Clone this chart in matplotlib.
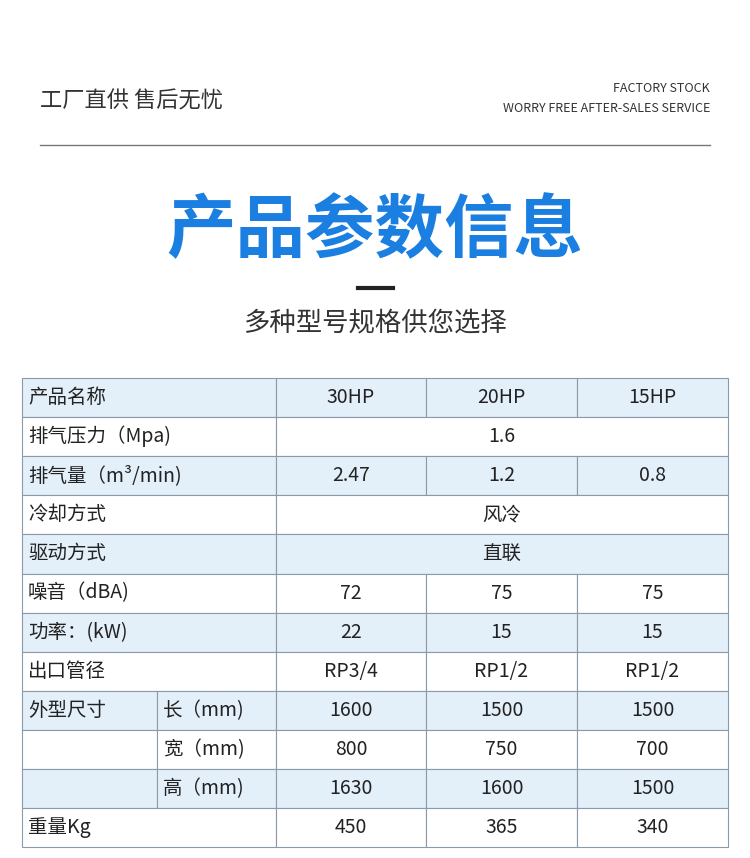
import matplotlib.pyplot as plt
from matplotlib.patches import Rectangle

plt.rcParams['font.family'] = ['Noto Sans CJK SC', 'DejaVu Sans']

models = ["30HP", "20HP", "15HP"]
row_labels = ["产品名称", "排气压力（Mpa)", "排气量（m³/min)", "冷却方式", "驱动方式",
              "噪音（dBA)", "功率：(kW)", "出口管径", "外型尺寸", "", "", "重量Kg"]
sub_labels = {8: "长（mm)", 9: "宽（mm)", 10: "高（mm)"}
merged_values = {1: "1.6", 3: "风冷", 4: "直联"}
values = {
    0: models,
    2: ["2.47", "1.2", "0.8"],
    5: ["72", "75", "75"],
    6: ["22", "15", "15"],
    7: ["RP3/4", "RP1/2", "RP1/2"],
    8: ["1600", "1500", "1500"],
    9: ["800", "750", "700"],
    10: ["1630", "1600", "1500"],
    11: ["450", "365", "340"],
}

W, H = 750, 858
fig = plt.figure(figsize=(W / 100, H / 100), dpi=100)
ax = fig.add_axes([0, 0, 1, 1])
ax.set_xlim(0, W)
ax.set_ylim(H, 0)
ax.axis("off")

# header
ax.text(40, 101, "工厂直供 售后无忧", fontsize=16, color="#333333", va="center")
ax.text(710, 88, "FACTORY STOCK", fontsize=9, color="#333333", ha="right", va="center")
ax.text(710, 108, "WORRY FREE AFTER-SALES SERVICE", fontsize=9, color="#333333", ha="right", va="center")
ax.plot([40, 710], [145, 145], color="#777777", lw=1)
ax.text(375, 232, "产品参数信息", fontsize=50, color="#1a7fe0", ha="center", va="center", fontweight="bold")
ax.plot([358, 393], [288, 288], color="#222222", lw=3)
ax.text(375, 323, "多种型号规格供您选择", fontsize=19, color="#333333", ha="center", va="center")

# table
cols = [22, 157, 276, 426, 577, 728]
top, rh = 378, 39.1
blue, line = "#e3eff9", "#8a9aa8"
fs = 14


def cell(x0, x1, r, txt="", ha="center", pad=6):
    y0 = top + r * rh
    fill = blue if r % 2 == 0 else "white"
    ax.add_patch(Rectangle((x0, y0), x1 - x0, rh, facecolor=fill, edgecolor=line, lw=0.8))
    if txt:
        x = (x0 + x1) / 2 if ha == "center" else x0 + pad
        ax.text(x, y0 + rh / 2, txt, fontsize=fs, color="#222222", ha=ha, va="center")


for r, lab in enumerate(row_labels):
    if r in sub_labels:
        cell(cols[0], cols[1], r, lab, ha="left")
        cell(cols[1], cols[2], r, sub_labels[r], ha="left")
    else:
        cell(cols[0], cols[2], r, lab, ha="left")
    if r in merged_values:
        cell(cols[2], cols[5], r, merged_values[r])
    else:
        for i, v in enumerate(values[r]):
            cell(cols[2 + i], cols[3 + i], r, v)

fig.savefig("out.png", dpi=100, facecolor="white")
